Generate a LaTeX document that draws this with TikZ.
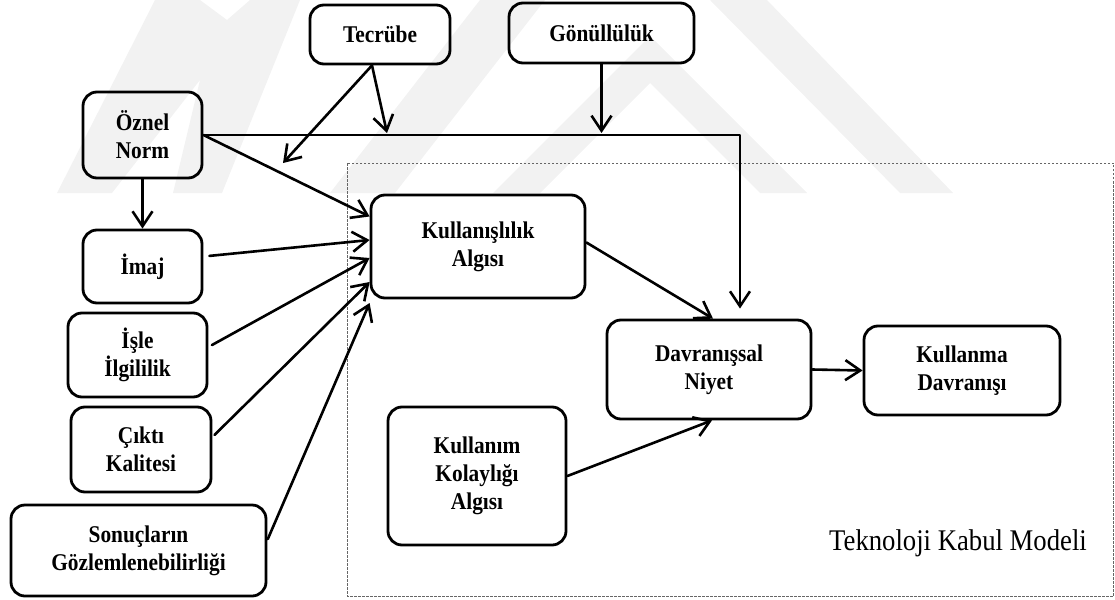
\documentclass[tikz,border=0pt]{standalone}
\usepackage{fontspec}
\setmainfont[FakeStretch=0.89]{Liberation Serif}
\usetikzlibrary{arrows.meta,calc}
\begin{document}
\begin{tikzpicture}[x=1pt,y=-1pt,
  box/.style={draw, line width=2.8pt, rounded corners=14pt, inner sep=0pt,
    align=center, font=\bfseries\fontsize{24}{28}\selectfont},
  arr/.style={line width=2.6pt, line join=round, line cap=round,
    -{Straight Barb[length=15pt,width=20pt]}},
  wm/.style={fill=black!5, draw=none},
  frame/.style={draw=black!60, line width=0.9pt, dash pattern=on 2.5pt off 1.5pt}]
\useasboundingbox (0,0) rectangle (1115,599);

% faint logo in the background
\fill[wm] (57,193) -- (155,0) -- (200,0) -- (227,20) -- (250,0) -- (300,0)
  -- (222,193) -- (173,193) -- (200,80) -- (112,193) -- cycle;
\fill[wm] (330,193) -- (395,193) -- (545,0) -- (480,0) -- cycle;
\fill[wm] (493,193) -- (650,36) -- (807,193) -- (760,193) -- (650,83) -- (540,193) -- cycle;
\fill[wm] (710,0) -- (767,0) -- (953,193) -- (900,193) -- cycle;

% Technology Acceptance Model frame
\draw[frame] (347,163) rectangle (1113.5,596);

% boxes
\node[box, minimum width=140pt, minimum height=59pt] (tecrube) at (380,34.5) {Tecrübe};
\node[box, minimum width=185pt, minimum height=60pt] (gonul) at (601.5,33) {Gönüllülük};
\node[box, minimum width=119pt, minimum height=86pt] (oznel) at (142.5,135) {Öznel\\Norm};
\node[box, minimum width=119pt, minimum height=73pt] (imaj) at (142.5,266.5) {İmaj};
\node[box, minimum width=139pt, minimum height=84pt] (isle) at (137.5,355) {İşle\\İlgililik};
\node[box, minimum width=140pt, minimum height=85pt] (cikti) at (141,449.5) {Çıktı\\Kalitesi};
\node[box, minimum width=255pt, minimum height=91pt] (sonuc) at (138.5,550.5) {Sonuçların\\Gözlemlenebilirliği};
\node[box, minimum width=214pt, minimum height=103pt] (kull) at (478,246.5) {Kullanışlılık\\Algısı};
\node[box, minimum width=178pt, minimum height=138pt] (kolay) at (477,476) {Kullanım\\Kolaylığı\\Algısı};
\node[box, minimum width=204pt, minimum height=99pt] (niyet) at (709,369.5) {Davranışsal\\Niyet};
\node[box, minimum width=196pt, minimum height=89pt] (kullanma) at (962,370.5) {Kullanma\\Davranışı};

\node[anchor=base, inner sep=0pt, font=\fontsize{30}{34}\selectfont] (tkm) at (958,550) {Teknoloji Kabul Modeli};

% points where the Tecrübe arrows end
\coordinate (tmeet) at (387,133);
\coordinate (tfree) at (283,163);

% connectors
\draw[arr] (oznel.east) -| ($(niyet.north)+(31,-10)$);
\draw[arr] ([xshift=-8pt]tecrube.south) -- (tmeet);
\draw[arr] ([xshift=-8pt]tecrube.south) -- (tfree);
\draw[arr] (gonul.south) -- (gonul.south |- tmeet);
\draw[arr] (oznel.east) -- ([yshift=30pt]kull.west);
\draw[arr] (oznel.south) -- (imaj.north);
\draw[arr, shorten <=6pt] ([yshift=10pt]imaj.east) -- ([yshift=6.5pt]kull.west);
\draw[arr, shorten <=4pt] ([yshift=8pt]isle.east) -- ([yshift=-11.5pt]kull.west);
\draw[arr, shorten <=3pt] ([yshift=12.5pt]cikti.east) -- ([yshift=-35.5pt]kull.west);
\draw[arr, shorten <=1pt] ([yshift=10.5pt]sonuc.east) -- ([yshift=-56.5pt]kull.west);
\draw[arr] ([yshift=4pt]kull.east) -- ([xshift=4pt]niyet.north);
\draw[arr] (kolay.east) -- ([xshift=3pt]niyet.south);
\draw[arr] (niyet.east) -- (kullanma.west);
\end{tikzpicture}
\end{document}
